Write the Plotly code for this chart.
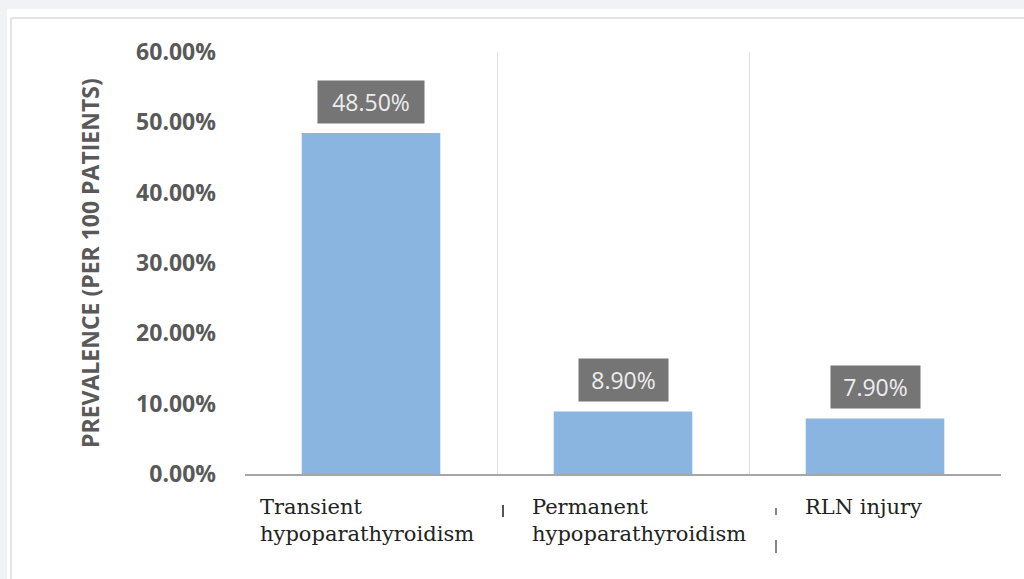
import plotly.graph_objects as go

# Prevalence of postoperative complications (per 100 patients)
categories = ["Transient<br>hypoparathyroidism", "Permanent<br>hypoparathyroidism", "RLN injury"]
prevalence = [48.5, 8.9, 7.9]
y_ticks = [0, 10, 20, 30, 40, 50, 60]
y_tick_labels = [f"{v:.2f}%" for v in y_ticks]

W, H = 1024, 579
M_L, M_R, M_T, M_B = 245, 23, 52, 105
plot_w = W - M_L - M_R
plot_h = H - M_T - M_B
band_px = plot_w / len(categories)

BAR_BLUE = "#8BB5E1"
LABEL_BOX = "#757575"
AXIS_GREY = "#595959"

# left inset (px) of each category label inside its band
label_inset_px = [13, 33, 54]

xs = list(range(len(categories)))


def px_x(px):
    return (px - M_L) / plot_w


def px_y(py):
    return (M_T + plot_h - py) / plot_h


fig = go.Figure()
fig.add_trace(go.Bar(
    x=xs, y=prevalence, width=0.55,
    marker=dict(color=BAR_BLUE, line=dict(width=0)),
    hoverinfo="skip",
))

annotations = []
# value labels in dark boxes above the bars
for x, v in zip(xs, prevalence):
    txt = f"{v:.2f}%"
    annotations.append(dict(
        x=x, y=v, xref="x", yref="y", text=txt, showarrow=False,
        yanchor="bottom", yshift=9,
        width=int(17.4 * len(txt)), height=40,
        bgcolor=LABEL_BOX, borderpad=1,
        font=dict(family="Open Sans", size=23, color="#EDEDED"),
    ))
# category labels, left aligned inside each category band
for x, c, inset in zip(xs, categories, label_inset_px):
    annotations.append(dict(
        x=x - 0.5 + inset / band_px, y=0, xref="x", yref="y", text=c, showarrow=False,
        xanchor="left", yanchor="top", align="left", yshift=-19,
        font=dict(family="DejaVu Serif", size=21, color="#222222"),
    ))
# y-axis title
annotations.append(dict(
    x=px_x(90), y=30, xref="paper", yref="y", xanchor="center", yanchor="middle",
    text="<b>PREVALENCE (PER 100 PATIENTS)</b>", showarrow=False,
    textangle=-90, font=dict(family="Open Sans", size=23, color=AXIS_GREY),
))

shapes = [
    # page background strips and card border
    dict(type="rect", xref="paper", yref="paper", x0=px_x(0), x1=px_x(W),
         y0=px_y(9), y1=px_y(0), fillcolor="#F0F2F5", line=dict(width=0), layer="below"),
    dict(type="rect", xref="paper", yref="paper", x0=px_x(0), x1=px_x(7),
         y0=px_y(H), y1=px_y(0), fillcolor="#F0F2F5", line=dict(width=0), layer="below"),
    dict(type="line", xref="paper", yref="paper", x0=px_x(11), x1=px_x(W),
         y0=px_y(18), y1=px_y(18), line=dict(color="#E4E4E4", width=2)),
    dict(type="line", xref="paper", yref="paper", x0=px_x(11), x1=px_x(11),
         y0=px_y(H), y1=px_y(18), line=dict(color="#E4E4E4", width=2)),
    # small separator ticks below the axis
    dict(type="line", xref="paper", yref="paper", x0=px_x(503), x1=px_x(503),
         y0=px_y(505), y1=px_y(517), line=dict(color="#555555", width=2)),
    dict(type="line", xref="paper", yref="paper", x0=px_x(776), x1=px_x(776),
         y0=px_y(508), y1=px_y(515), line=dict(color="#888888", width=2)),
    dict(type="line", xref="paper", yref="paper", x0=px_x(776), x1=px_x(776),
         y0=px_y(540), y1=px_y(553), line=dict(color="#888888", width=2)),
]

fig.update_layout(
    width=W, height=H,
    margin=dict(l=M_L, r=M_R, t=M_T, b=M_B),
    paper_bgcolor="white", plot_bgcolor="white",
    showlegend=False,
    annotations=annotations,
    shapes=shapes,
    xaxis=dict(
        range=[-0.5, 2.5], tickmode="array",
        tickvals=[-0.5, 0.5, 1.5, 2.5], ticktext=["", "", "", ""],
        showgrid=True, gridcolor="#DEDEDE", gridwidth=1,
        showline=True, linecolor="#A6A6A6", linewidth=2,
        zeroline=False, fixedrange=True,
    ),
    yaxis=dict(
        range=[0, 60], tickmode="array", tickvals=y_ticks, ticktext=y_tick_labels,
        showgrid=False, zeroline=False, showline=False,
        ticklabelstandoff=28,
        tickfont=dict(family="Open Sans", size=23, color=AXIS_GREY, weight="bold"),
        fixedrange=True,
    ),
)

fig.write_html("out.html")
